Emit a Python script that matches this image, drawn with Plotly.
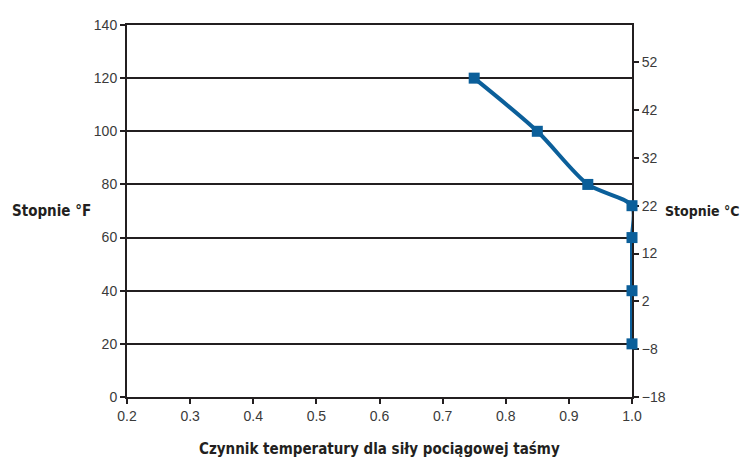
import plotly.graph_objects as go

# Temperature factor vs. temperature (°F)
factor = [0.75, 0.85, 0.93, 1.0, 1.0, 1.0, 1.0]
temp_f = [120, 100, 80, 72, 60, 40, 20]

# Secondary scale in °C
celsius_ticks = [-18, -8, 2, 12, 22, 32, 42, 52]

x_ticks = [0.2, 0.3, 0.4, 0.5, 0.6, 0.7, 0.8, 0.9, 1.0]
f_ticks = [0, 20, 40, 60, 80, 100, 120, 140]

blue = "#0b5f9a"
dark = "#231f20"
tick_font = dict(family="Liberation Sans, Arial, sans-serif", size=14, color="#3a3a3a")
title_font = dict(family="Liberation Sans Narrow, DejaVu Sans Condensed, sans-serif",
                  size=15, color=dark)

# page body adds an 8px margin, so the figure is a bit smaller than the window
W, H = 745, 451
L, R, T, B = 119, 121, 9, 62

fig = go.Figure()

fig.add_trace(go.Scatter(
    x=factor, y=temp_f,
    mode="lines+markers",
    line=dict(color=blue, width=4, shape="spline", smoothing=0.8),
    marker=dict(symbol="square", size=11, color=blue),
    cliponaxis=False,
    showlegend=False,
))

# invisible trace to carry the °C axis
fig.add_trace(go.Scatter(x=[None], y=[None], yaxis="y2", showlegend=False))

axis_common = dict(
    zeroline=False, showline=True, linecolor=dark, linewidth=2,
    ticks="outside", ticklen=5, tickwidth=2, tickcolor=dark,
    tickfont=tick_font, layer="below traces",
)

fig.update_layout(
    width=W, height=H,
    margin=dict(l=L, r=R, t=T, b=B),
    paper_bgcolor="white",
    plot_bgcolor="white",
    xaxis=dict(
        range=[0.2, 1.0], tickvals=x_ticks, ticktext=[f"{v:.1f}" for v in x_ticks],
        showgrid=False, mirror=True, **axis_common,
    ),
    yaxis=dict(
        range=[0, 140], tickvals=f_ticks,
        showgrid=True, gridcolor=dark, gridwidth=2, **axis_common,
    ),
    yaxis2=dict(
        overlaying="y", side="right",
        range=[-18, -18 + 140 / 1.8], tickvals=celsius_ticks,
        showgrid=False, **axis_common,
    ),
    annotations=[
        dict(text="<b>Stopnie °F</b>", xref="paper", yref="paper", x=-0.232, y=0.5,
             xanchor="left", yanchor="middle", showarrow=False, font=title_font),
        dict(text="<b>Stopnie °C</b>", xref="paper", yref="paper", x=1.218, y=0.5,
             xanchor="right", yanchor="middle", showarrow=False,
             font=dict(title_font, size=14)),
        dict(text="<b>Czynnik temperatury dla siły pociągowej taśmy</b>", xref="paper",
             yref="paper", x=0.5, y=-0.139, xanchor="center", yanchor="middle",
             showarrow=False, font=title_font),
    ],
)

fig.write_html("out.html")
